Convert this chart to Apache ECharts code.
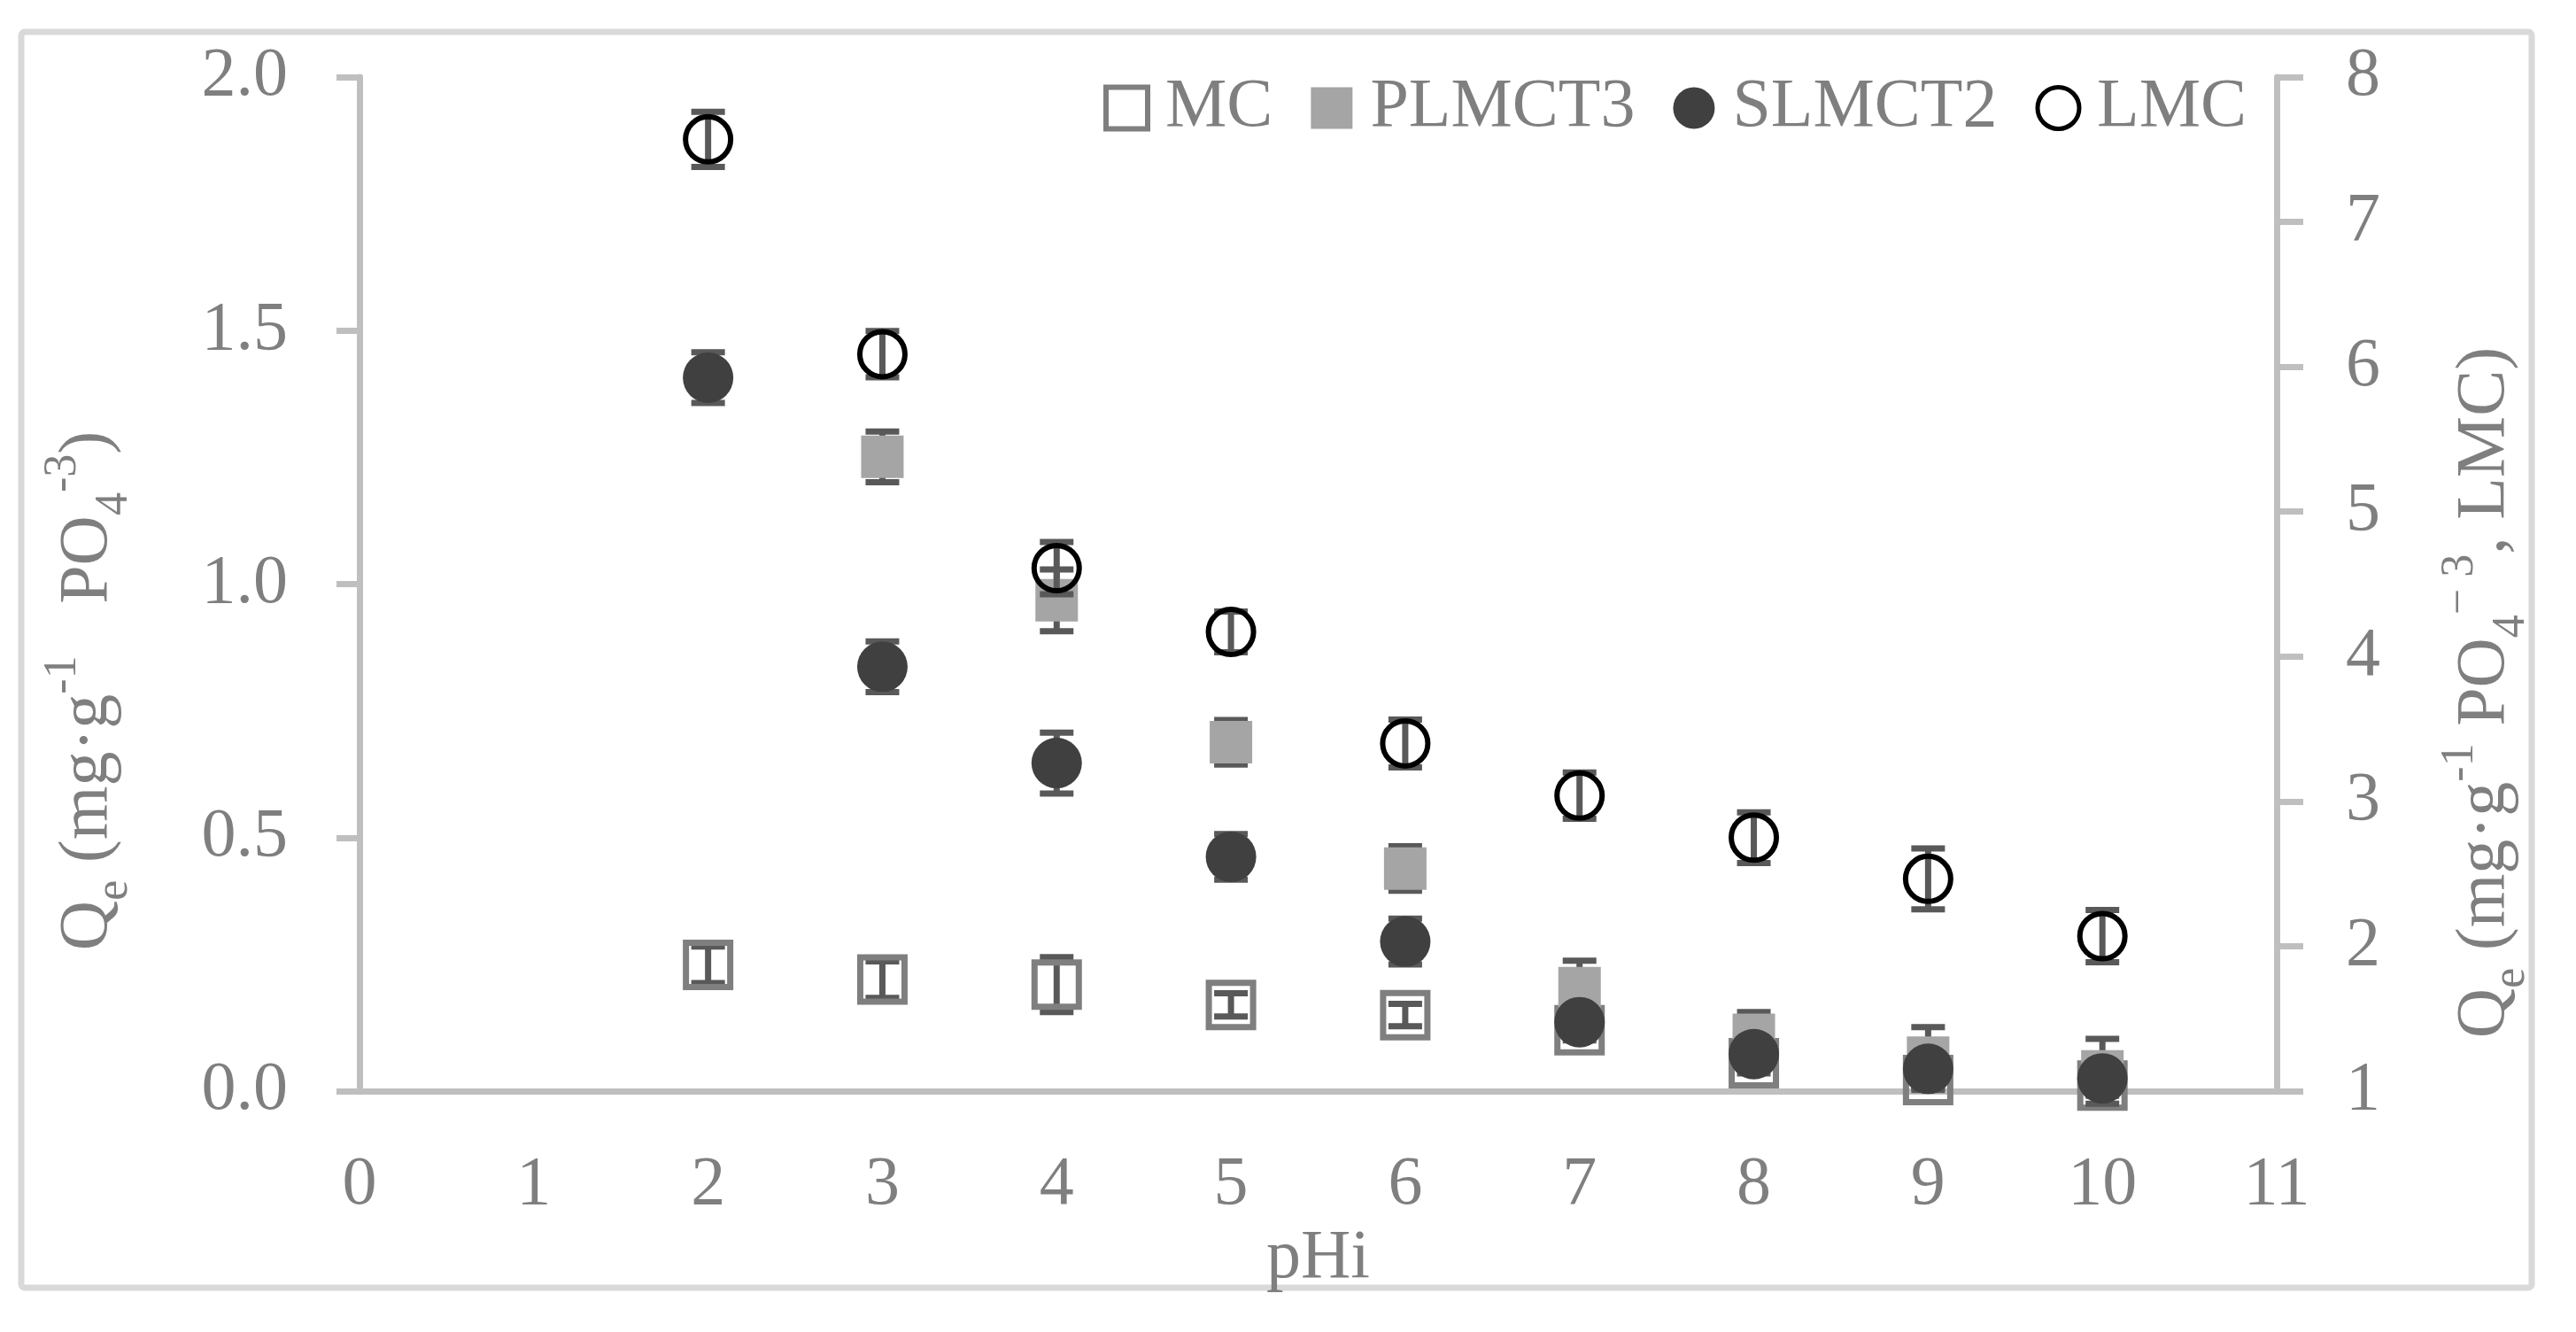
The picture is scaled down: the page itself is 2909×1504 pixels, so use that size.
<!DOCTYPE html>
<html>
<head>
<meta charset="utf-8">
<script src="https://cdn.jsdelivr.net/npm/echarts@6/dist/echarts.min.js"></script>
<style>
  html, body { margin: 0; padding: 0; background: #ffffff; }
  #chart { width: 2909px; height: 1504px; }
</style>
</head>
<body>
<div id="chart"></div>
<script>
// ---------- data ----------
const xTicks = [0, 1, 2, 3, 4, 5, 6, 7, 8, 9, 10, 11];
const leftTicks = [0.0, 0.5, 1.0, 1.5, 2.0];
const rightTicks = [1, 2, 3, 4, 5, 6, 7, 8];

const mcPH   = [2, 3, 4, 5, 6, 7, 8, 9, 10];
const mcQ    = [0.249, 0.220, 0.210, 0.170, 0.150, 0.120, 0.055, 0.022, 0.011];
const mcErr  = [0.036, 0.036, 0.054, 0.023, 0.022, 0.020, 0.020, 0.020, 0.020];

const plPH   = [3, 4, 5, 6, 7, 8, 9, 10];
const plQ    = [1.251, 0.968, 0.688, 0.439, 0.203, 0.111, 0.066, 0.039];
const plErr  = [0.050, 0.061, 0.044, 0.044, 0.054, 0.045, 0.060, 0.064];

const slPH   = [2, 3, 4, 5, 6, 7, 8, 9, 10];
const slQ    = [1.407, 0.837, 0.647, 0.462, 0.295, 0.136, 0.073, 0.044, 0.025];
const slErr  = [0.050, 0.050, 0.060, 0.045, 0.045, 0.030, 0.030, 0.030, 0.030];

const lmcPH  = [2, 3, 4, 5, 6, 7, 8, 9, 10];
const lmcQ   = [7.57, 6.087, 4.61, 4.17, 3.40, 3.04, 2.75, 2.465, 2.07];
const lmcErr = [0.19, 0.16, 0.18, 0.14, 0.165, 0.16, 0.175, 0.21, 0.18];

const seriesNames = ['MC', 'PLMCT3', 'SLMCT2', 'LMC'];

// ---------- styling ----------
const FONT = '"Liberation Serif", "Times New Roman", serif';
const TXT = '#7f7f7f';
const AXIS = '#bfbfbf';
const ERRC = '#595959';
const FS = 78;

function pts(xs, ys, es) { return xs.map((x, i) => [x, ys[i], es[i]]); }

function errRender(params, api) {
  const x = api.value(0), y = api.value(1), e = api.value(2);
  const top = api.coord([x, y + e]);
  const bot = api.coord([x, y - e]);
  const cap = 19;
  const st = { stroke: ERRC, lineWidth: 7 };
  return {
    type: 'group',
    children: [
      { type: 'line', shape: { x1: top[0], y1: top[1], x2: bot[0], y2: bot[1] }, style: st },
      { type: 'line', shape: { x1: top[0] - cap, y1: top[1], x2: top[0] + cap, y2: top[1] }, style: st },
      { type: 'line', shape: { x1: bot[0] - cap, y1: bot[1], x2: bot[0] + cap, y2: bot[1] }, style: st }
    ]
  };
}

function errSeries(data, yIdx, z) {
  return {
    type: 'custom', yAxisIndex: yIdx, z: z, silent: true, clip: false,
    renderItem: errRender, data: data,
    encode: { x: 0, y: 1 }
  };
}

const styles = {
  MC:     { symbol: 'rect',   size: 50, itemStyle: { color: 'rgba(0,0,0,0)', borderColor: '#7f7f7f', borderWidth: 7, opacity: 1 } },
  PLMCT3: { symbol: 'rect',   size: 48, itemStyle: { color: '#a5a5a5', opacity: 1 } },
  SLMCT2: { symbol: 'circle', size: 57, itemStyle: { color: '#404040', opacity: 1 } },
  LMC:    { symbol: 'circle', size: 51, itemStyle: { color: 'rgba(0,0,0,0)', borderColor: '#000000', borderWidth: 6, opacity: 1 } }
};

function scat(name, data, yIdx, z) {
  const s = styles[name];
  return {
    type: 'scatter', name: name, yAxisIndex: yIdx, z: z, clip: false,
    symbol: s.symbol, symbolSize: s.size, itemStyle: s.itemStyle,
    emphasis: { disabled: true },
    data: data.map(d => [d[0], d[1]])
  };
}

const mcData = pts(mcPH, mcQ, mcErr);
const plData = pts(plPH, plQ, plErr);
const slData = pts(slPH, slQ, slErr);
const lmcData = pts(lmcPH, lmcQ, lmcErr);

const chart = echarts.init(document.getElementById('chart'), null, { renderer: 'canvas' });

const richBase = {
  m:   { fontSize: FS, fontFamily: FONT, fill: TXT, color: TXT, lineHeight: 110, verticalAlign: 'middle' },
  sub: { fontSize: 52, fontFamily: FONT, fill: TXT, color: TXT, lineHeight: 52, verticalAlign: 'bottom' },
  sup: { fontSize: 52, fontFamily: FONT, fill: TXT, color: TXT, lineHeight: 52, verticalAlign: 'top' }
};

const option = {
  animation: false,
  backgroundColor: '#ffffff',
  textStyle: { fontFamily: FONT },
  grid: { left: 406, right: 338, top: 87, bottom: 272, containLabel: false },
  legend: {
    left: 1246, top: 83, padding: 0,
    itemWidth: 47, itemHeight: 47, itemGap: 43,
    selectedMode: false,
    textStyle: { fontSize: FS, fontFamily: FONT, color: TXT, padding: [0, 0, 0, 15] },
    data: [
      { name: 'MC', icon: 'rect', itemStyle: { color: 'rgba(0,0,0,0)', borderColor: '#7f7f7f', borderWidth: 6, opacity: 1 } },
      { name: 'PLMCT3', icon: 'rect', itemStyle: { color: '#a5a5a5', borderWidth: 0, opacity: 1 } },
      { name: 'SLMCT2', icon: 'circle', itemStyle: { color: '#404040', borderWidth: 0, opacity: 1 } },
      { name: 'LMC', icon: 'circle', itemStyle: { color: 'rgba(0,0,0,0)', borderColor: '#000000', borderWidth: 5, opacity: 1 } }
    ]
  },
  xAxis: {
    type: 'value',
    min: xTicks[0], max: xTicks[xTicks.length - 1], interval: 1,
    name: 'pHi', nameLocation: 'middle', nameGap: 127,
    nameTextStyle: { fontSize: FS, fontFamily: FONT, color: TXT },
    axisLine: { show: true, onZero: false, lineStyle: { color: AXIS, width: 7 } },
    axisTick: { show: false },
    splitLine: { show: false },
    axisLabel: { fontSize: FS, fontFamily: FONT, color: TXT, margin: 68 }
  },
  yAxis: [
    {
      type: 'value', position: 'left',
      min: leftTicks[0], max: leftTicks[leftTicks.length - 1], interval: 0.5,
      axisLine: { show: true, lineStyle: { color: AXIS, width: 7 } },
      axisTick: { show: true, inside: false, length: 26, lineStyle: { color: AXIS, width: 7 } },
      splitLine: { show: false },
      axisLabel: { fontSize: FS, fontFamily: FONT, color: TXT, margin: 81, formatter: v => v.toFixed(1) }
    },
    {
      type: 'value', position: 'right',
      min: rightTicks[0], max: rightTicks[rightTicks.length - 1], interval: 1,
      axisLine: { show: true, lineStyle: { color: AXIS, width: 7 } },
      axisTick: { show: true, inside: false, length: 30, lineStyle: { color: AXIS, width: 7 } },
      splitLine: { show: false },
      axisLabel: { fontSize: FS, fontFamily: FONT, color: TXT, margin: 78 }
    }
  ],
  graphic: [
    {
      type: 'rect', z: -10, silent: true,
      shape: { x: 24, y: 36, width: 2835, height: 1418, r: 4 },
      style: { fill: 'none', stroke: '#d9d9d9', lineWidth: 7 }
    },
    {
      type: 'text', silent: true, x: 100, y: 780, rotation: Math.PI / 2,
      style: {
        text: '{m|Q}{sub|e}{m| (mg·g}{sup|-1}{m|   PO}{sub|4}{sup|-3}{m|)}',
        align: 'center', verticalAlign: 'middle',
        fontSize: FS, fontFamily: FONT, fill: TXT,
        rich: richBase
      }
    },
    {
      type: 'text', silent: true, x: 2807, y: 782, rotation: Math.PI / 2,
      style: {
        text: '{m|Q}{sub|e}{m| (mg·g}{sup|-1}{m| PO}{sub|4}{sup|− 3}{m|, LMC)}',
        align: 'center', verticalAlign: 'middle',
        fontSize: FS, fontFamily: FONT, fill: TXT,
        rich: richBase
      }
    }
  ],
  series: [
    errSeries(mcData, 0, 2),
    scat('MC', mcData, 0, 3),
    errSeries(plData, 0, 4),
    scat('PLMCT3', plData, 0, 5),
    errSeries(slData, 0, 6),
    scat('SLMCT2', slData, 0, 7),
    errSeries(lmcData, 1, 8),
    scat('LMC', lmcData, 1, 9)
  ]
};

chart.setOption(option);
</script>
</body>
</html>
